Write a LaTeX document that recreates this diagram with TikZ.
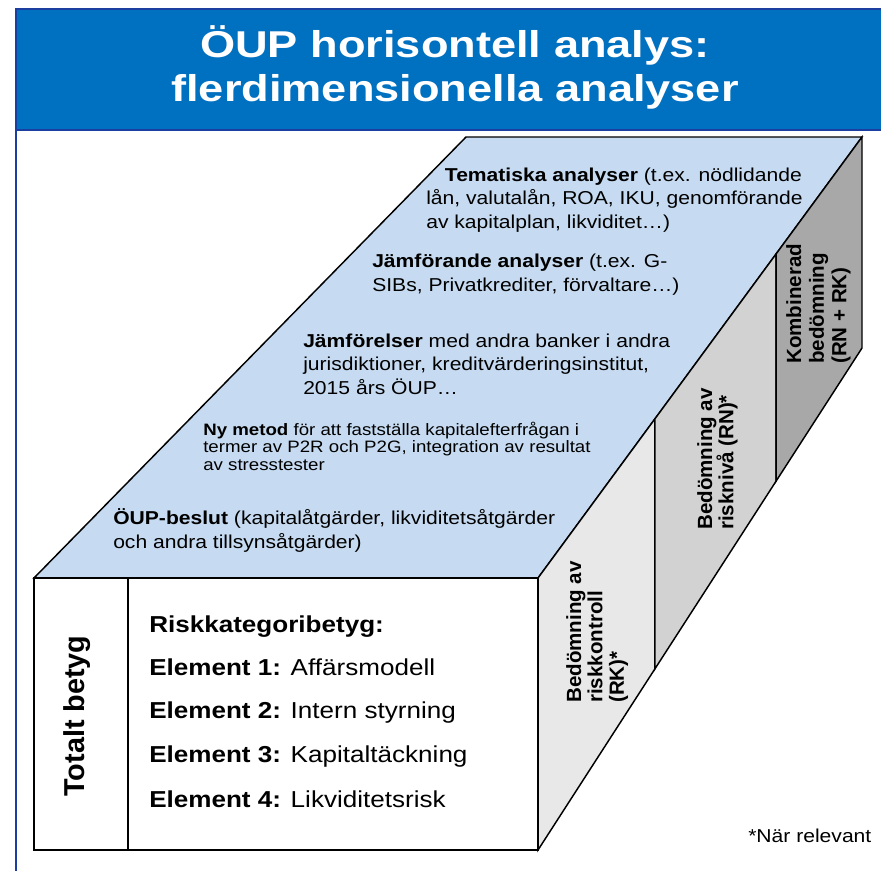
\documentclass[tikz,border=0pt]{standalone}
\usepackage{fontspec}
\setmainfont{Liberation Sans}[FakeStretch=1.13]
\newfontfamily\titlefont{Liberation Sans}[FakeStretch=1.21]
\newfontfamily\sidefont{Liberation Sans}
\usetikzlibrary{calc}
\definecolor{titleblue}{HTML}{0070C0}
\definecolor{frameblue}{HTML}{1A3FA0}
\definecolor{topface}{HTML}{C6DBF1}
\definecolor{sidelight}{HTML}{E8E8E8}
\definecolor{sidemid}{HTML}{D2D2D2}
\definecolor{sidedark}{HTML}{A8A8A8}
\definecolor{ink}{HTML}{000000}
\tikzset{
  boxline/.style={draw=ink,line width=1.1pt,line join=miter},
  % multi-line blocks sit on the baseline of their last line
  facetext/.style={anchor=base west,align=left,inner sep=0pt,
                   font=\fontsize{14}{17.6}\selectfont},
  smalltext/.style={facetext,font=\fontsize{12.4}{13.1}\selectfont},
  elemtext/.style={anchor=base west,inner sep=0pt,
                   font=\fontsize{17.3}{20}\selectfont},
  sidetext/.style={rotate=90,anchor=north west,align=left,inner sep=0pt,
                   font=\sidefont\bfseries\fontsize{15.4}{16}\selectfont}
}

\begin{document}
\begin{tikzpicture}[x=0.75pt,y=-0.75pt]
  \useasboundingbox (0,0) rectangle (881,871);

  % title bar and frame
  \fill[titleblue] (16,9) rectangle (881,130);
  \draw[frameblue,line width=1.5pt] (881,9) -- (16,9) -- (16,871);
  \draw[frameblue,line width=1.5pt] (16,130) -- (881,130);
  \node[font=\titlefont\bfseries\fontsize{28}{33}\selectfont,text=white,
        align=center,anchor=base,inner sep=0pt] (title) at (455,101)
    {ÖUP horisontell analys:\\flerdimensionella analyser};

  % corners of the box
  \coordinate (ftl) at (34,578);
  \coordinate (ftr) at (538,578);
  \coordinate (fbl) at (34,850);
  \coordinate (fbr) at (538,850);
  \coordinate (btl) at (466,137);
  \coordinate (btr) at (862,137);
  \coordinate (bbr) at (862,348);
  % dividers on the right face
  \coordinate (d1t) at ($(ftr)!0.361!(btr)$);
  \coordinate (d1b) at ($(fbr)!0.361!(bbr)$);
  \coordinate (d2t) at ($(ftr)!0.735!(btr)$);
  \coordinate (d2b) at ($(fbr)!0.735!(bbr)$);

  % top face
  \draw[boxline,fill=topface] (ftl) -- (btl) -- (btr) -- (ftr) -- cycle;
  % right face, three slices
  \draw[boxline,fill=sidelight] (ftr) -- (d1t) -- (d1b) -- (fbr) -- cycle;
  \draw[boxline,fill=sidemid] (d1t) -- (d2t) -- (d2b) -- (d1b) -- cycle;
  \draw[boxline,fill=sidedark] (d2t) -- (btr) -- (bbr) -- (d2b) -- cycle;
  % front face
  \draw[boxline,fill=white] (ftl) rectangle (fbr);
  \draw[boxline] (128,578) -- (128,850);

  % texts on the top face
  \node[facetext] (tema) at (426,228)
    {\hspace*{14pt}\textbf{Tematiska analyser} (t.ex. nödlidande\\
     lån, valutalån, ROA, IKU, genomförande\\
     av kapitalplan, likviditet…)};
  \node[facetext] (jmfa) at (372,291)
    {\textbf{Jämförande analyser} (t.ex. G-\\
     SIBs, Privatkrediter, förvaltare…)};
  \node[facetext] (jmfe) at (303,394)
    {\textbf{Jämförelser} med andra banker i andra\\
     jurisdiktioner, kreditvärderingsinstitut,\\
     2015 års ÖUP…};
  \node[smalltext] (nymetod) at (203,470)
    {\textbf{Ny metod} för att fastställa kapitalefterfrågan i\\
     termer av P2R och P2G, integration av resultat\\
     av stresstester};
  \node[facetext] (beslut) at (113,548)
    {\textbf{ÖUP-beslut} (kapitalåtgärder, likviditetsåtgärder\\
     och andra tillsynsåtgärder)};

  % texts on the front face
  \node[rotate=90,inner sep=0pt,
        font=\sidefont\bfseries\fontsize{21.6}{24}\selectfont] (totalt) at (77,716)
    {Totalt betyg};
  \node[elemtext,font=\bfseries\fontsize{17.3}{20}\selectfont] (rkb) at (149,632)
    {Riskkategoribetyg:};
  \node[elemtext] (el1) at (149,675) {\textbf{Element 1:} Affärsmodell};
  \node[elemtext] (el2) at (149,718) {\textbf{Element 2:} Intern styrning};
  \node[elemtext] (el3) at (149,762) {\textbf{Element 3:} Kapitaltäckning};
  \node[elemtext] (el4) at (149,807) {\textbf{Element 4:} Likviditetsrisk};

  % texts on the right face
  \node[sidetext] (rk) at (566,703) {Bedömning av\\riskkontroll\\(RK)*};
  \node[sidetext] (rn) at (697,530) {Bedömning av\\risknivå (RN)*};
  \node[sidetext,font=\sidefont\bfseries\fontsize{15.4}{17}\selectfont]
    (komb) at (786,364) {Kombinerad\\bedömning\\(RN + RK)};

  \node[anchor=base west,inner sep=0pt,font=\fontsize{14}{16}\selectfont]
    (note) at (748,842) {*När relevant};
\end{tikzpicture}
\end{document}
